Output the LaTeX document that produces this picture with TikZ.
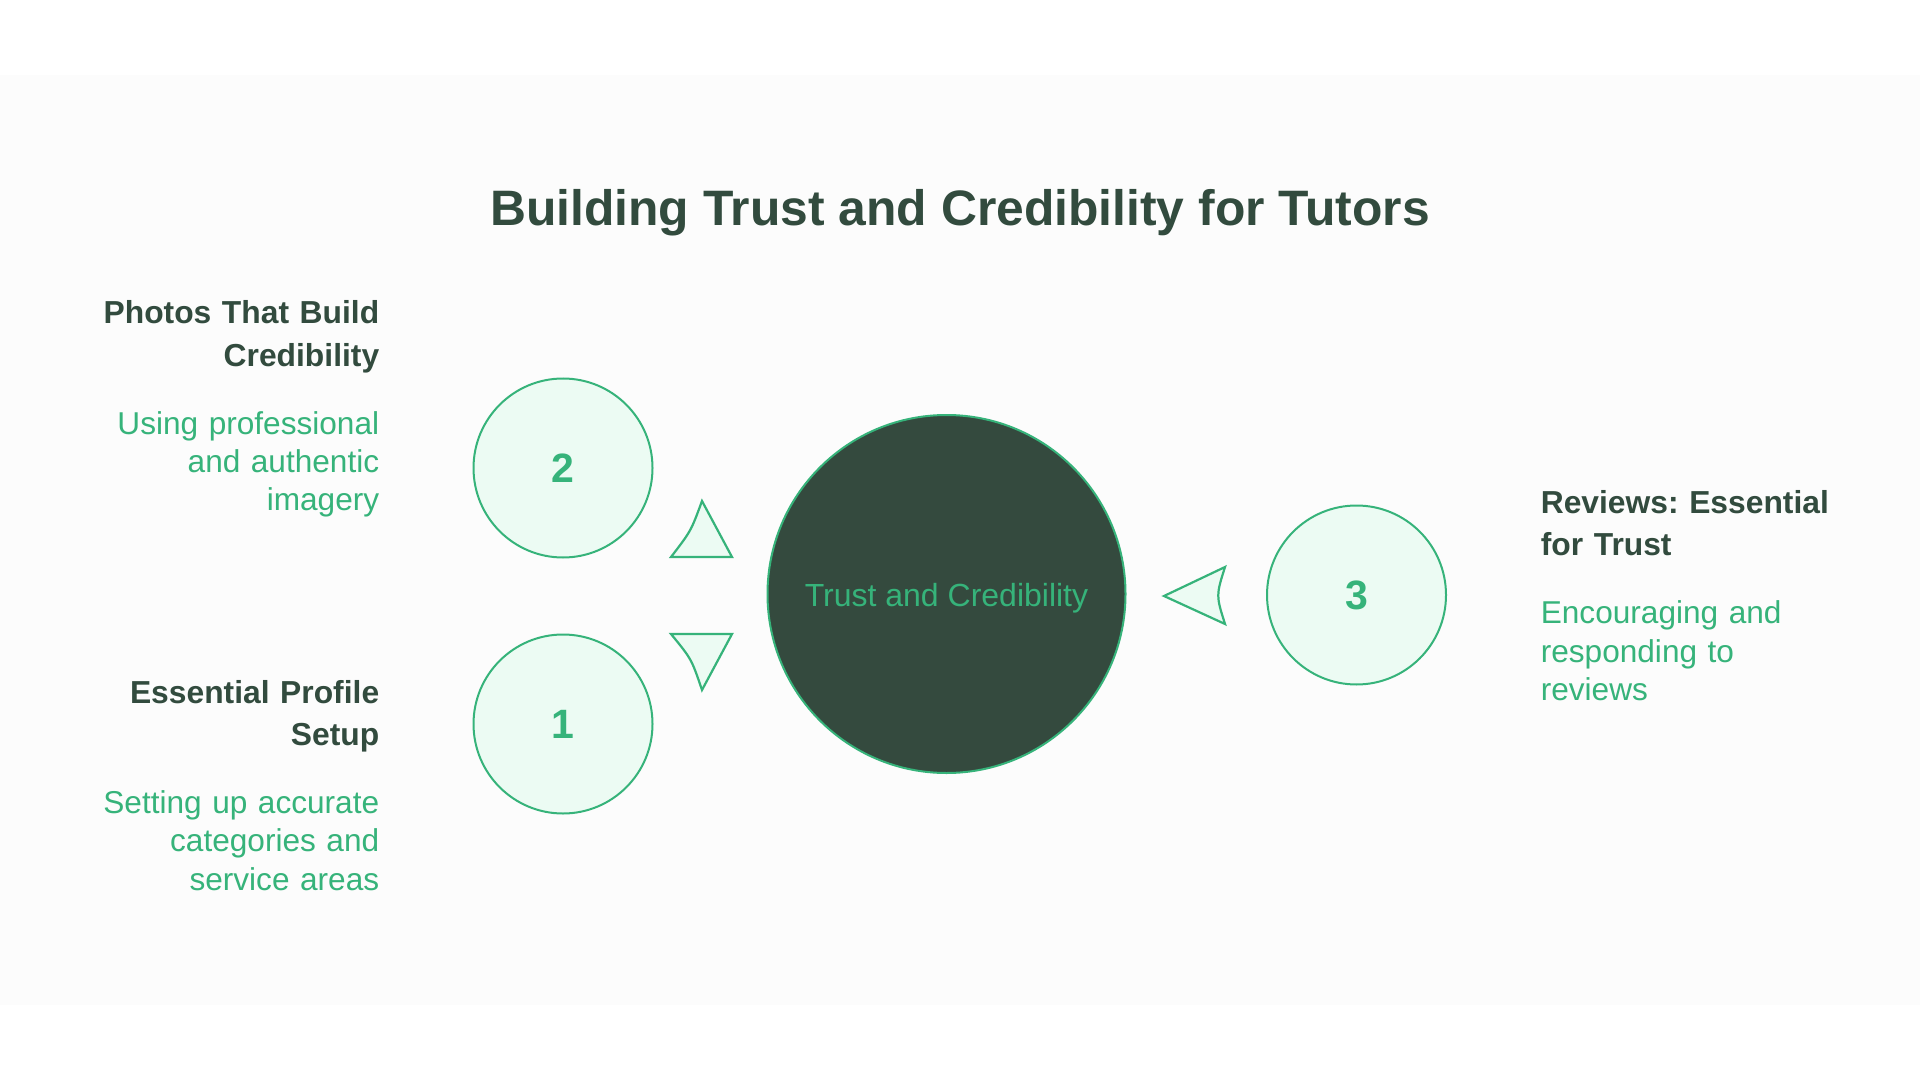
\documentclass[tikz,border=0pt]{standalone}
\usepackage{fontspec}
\setmainfont{Liberation Sans}
\frenchspacing
\definecolor{darktxt}{HTML}{324B3E}
\definecolor{darkfill}{HTML}{344A3E}
\definecolor{accent}{HTML}{36B37A}
\definecolor{lightfill}{HTML}{ECFBF3}
\definecolor{bgband}{HTML}{FCFCFC}
\tikzset{
  titletext/.style={anchor=base, inner sep=0pt, text=darktxt, font=\fontsize{24.9pt}{30pt}\selectfont\bfseries},
  headleft/.style={anchor=base east, inner sep=0pt, text width=190pt, align=right, text=darktxt, font=\fontsize{15.9pt}{21pt}\selectfont\bfseries},
  bodyleft/.style={anchor=base east, inner sep=0pt, text width=190pt, align=right, text=accent, font=\fontsize{15.8pt}{19.15pt}\selectfont},
  headright/.style={anchor=base west, inner sep=0pt, text width=190pt, align=left, text=darktxt, font=\fontsize{15.9pt}{21pt}\selectfont\bfseries},
  bodyright/.style={anchor=base west, inner sep=0pt, text width=190pt, align=left, text=accent, font=\fontsize{15.8pt}{19.15pt}\selectfont},
  smallcirc/.style={circle, draw=accent, line width=1pt, fill=lightfill, minimum size=89.5pt, inner sep=0pt, text=accent, font=\fontsize{20.5pt}{24pt}\selectfont\bfseries},
  bigcirc/.style={circle, draw=accent, line width=1pt, fill=darkfill, minimum size=179pt, inner sep=0pt, text height=12.5pt, text depth=0pt, text=accent, font=\fontsize{16pt}{19pt}\selectfont},
  tri/.style={draw=accent, line width=1.1pt, fill=lightfill, line join=miter}
}
\begin{document}
\begin{tikzpicture}[x=0.5pt, y=-0.5pt]
\useasboundingbox (0,0) rectangle (1920,1080);
\fill[white] (0,0) rectangle (1920,1080);
\fill[bgband] (0,75) rectangle (1920,1005);

\node[titletext] (title) at (960,226) {Building Trust and Credibility for Tutors};

\node[bigcirc] (center) at (946.5,594) {Trust and Credibility};
\node[smallcirc] (c2) at (563,468) {2};
\node[smallcirc] (c1) at (563,724) {1};
\node[smallcirc] (c3) at (1356.5,595) {3};

% pointer shapes
\draw[tri] (671,557) .. controls (691,531) .. (702,501) -- (732,557) -- cycle;
\draw[tri] (671,634) -- (732,634) -- (702,690) .. controls (691.5,659) .. (671,634) -- cycle;
\draw[tri] (1164,596) -- (1225,567) .. controls (1216,595.5) .. (1225,624) -- cycle;

% left texts
\node[headleft] (h2) at (379.6,324) {Photos That Build\\Credibility};
\node[bodyleft] (b2) at (379.6,434) {Using professional\\and authentic\\imagery};
\node[headleft] (h1) at (379.6,703.6) {Essential Profile\\Setup};
\node[bodyleft] (b1) at (379.6,813.6) {Setting up accurate\\categories and\\service areas};

% right texts
\node[headright] (h3) at (1540.4,513.8) {Reviews: Essential\\for Trust};
\node[bodyright] (b3) at (1540.4,623.8) {Encouraging and\\responding to\\reviews};
\end{tikzpicture}
\end{document}
